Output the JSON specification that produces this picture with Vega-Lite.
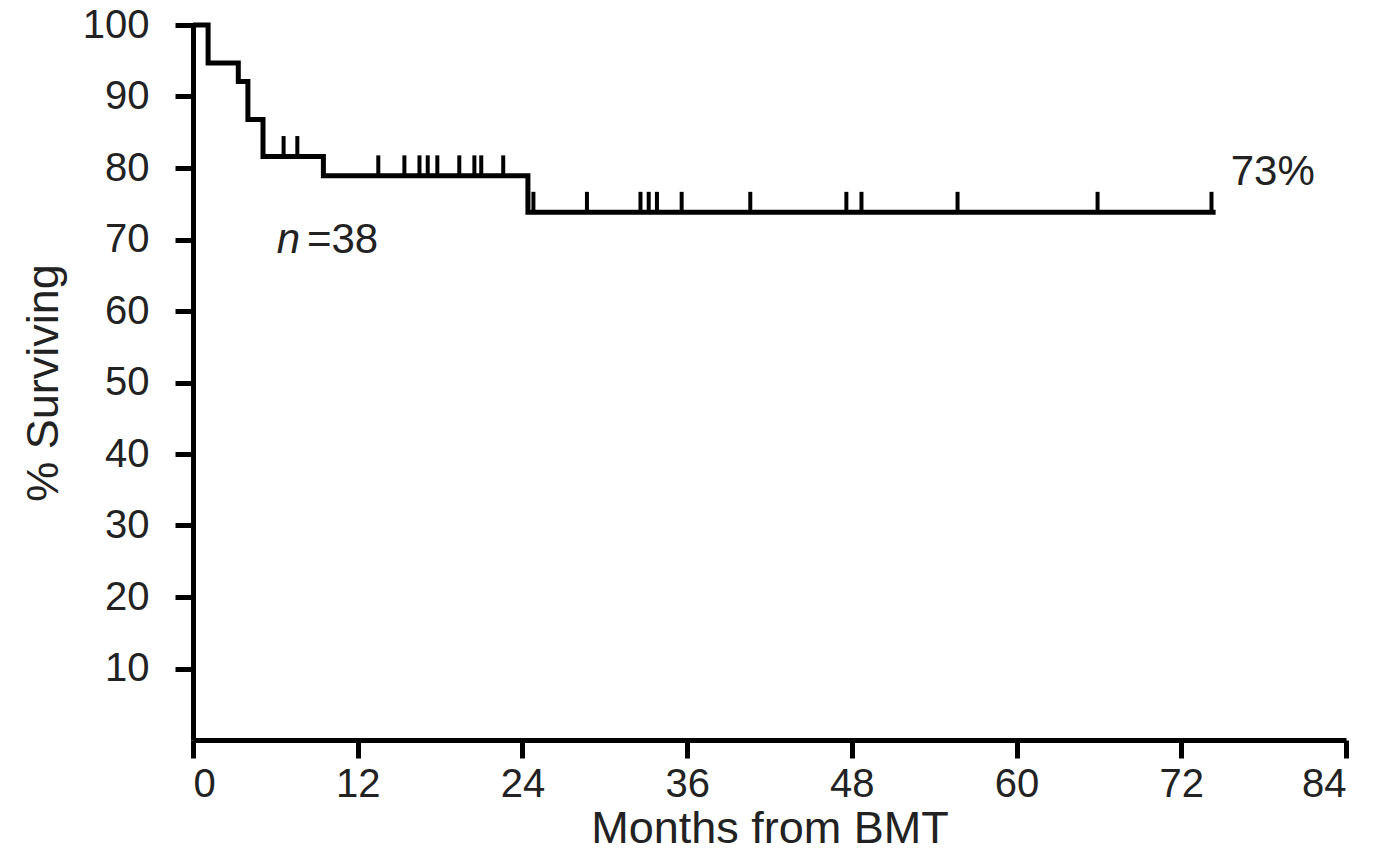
{
  "$schema": "https://vega.github.io/schema/vega-lite/v6.json",
  "width": 1153,
  "height": 715,
  "autosize": "none",
  "padding": {"left": 193, "top": 25, "right": 34, "bottom": 117},
  "background": "white",
  "config": {
    "view": {"stroke": null},
    "font": "Liberation Sans",
    "axis": {
      "grid": false,
      "domainColor": "#000000",
      "domainWidth": 5,
      "tickColor": "#000000",
      "tickWidth": 5,
      "tickSize": 18,
      "labelFont": "Liberation Sans",
      "labelFontSize": 40,
      "labelColor": "#222222",
      "titleFont": "Liberation Sans",
      "titleFontSize": 45,
      "titleFontWeight": "normal",
      "titleColor": "#222222"
    }
  },
  "datasets": {
    "curve": [
      {"month": 0, "surv": 100},
      {"month": 1.1, "surv": 94.7},
      {"month": 3.3, "surv": 92.1},
      {"month": 4.0, "surv": 86.8},
      {"month": 5.1, "surv": 81.6},
      {"month": 9.5, "surv": 78.9},
      {"month": 24.4, "surv": 73.8},
      {"month": 74.5, "surv": 73.8}
    ],
    "censored": [
      {"month": 6.6, "surv": 81.6},
      {"month": 7.6, "surv": 81.6},
      {"month": 13.5, "surv": 78.9},
      {"month": 15.4, "surv": 78.9},
      {"month": 16.5, "surv": 78.9},
      {"month": 17.1, "surv": 78.9},
      {"month": 17.8, "surv": 78.9},
      {"month": 19.4, "surv": 78.9},
      {"month": 20.5, "surv": 78.9},
      {"month": 21.0, "surv": 78.9},
      {"month": 22.6, "surv": 78.9},
      {"month": 24.8, "surv": 73.8},
      {"month": 28.7, "surv": 73.8},
      {"month": 32.6, "surv": 73.8},
      {"month": 33.2, "surv": 73.8},
      {"month": 33.8, "surv": 73.8},
      {"month": 35.6, "surv": 73.8},
      {"month": 40.6, "surv": 73.8},
      {"month": 47.6, "surv": 73.8},
      {"month": 48.7, "surv": 73.8},
      {"month": 55.7, "surv": 73.8},
      {"month": 65.9, "surv": 73.8},
      {"month": 74.2, "surv": 73.8}
    ]
  },
  "layer": [
    {
      "data": {"name": "curve"},
      "mark": {"type": "line", "interpolate": "step-after", "color": "#000000", "strokeWidth": 5, "clip": false},
      "encoding": {
        "x": {
          "field": "month", "type": "quantitative",
          "scale": {"domain": [0, 84], "nice": false, "zero": false},
          "axis": {"values": [0, 12, 24, 36, 48, 60, 72, 84], "title": "Months from BMT", "labelPadding": 6, "titlePadding": 2}
        },
        "y": {
          "field": "surv", "type": "quantitative",
          "scale": {"domain": [0, 100], "nice": false},
          "axis": {"values": [10, 20, 30, 40, 50, 60, 70, 80, 90, 100], "title": "% Surviving", "labelPadding": 26, "titlePadding": 16}
        }
      }
    },
    {
      "data": {"name": "censored"},
      "mark": {"type": "tick", "orient": "vertical", "color": "#000000", "thickness": 4, "size": 21, "yOffset": -10, "opacity": 1},
      "encoding": {
        "x": {"field": "month", "type": "quantitative"},
        "y": {"field": "surv", "type": "quantitative"}
      }
    },
    {
      "data": {"values": [{}]},
      "mark": {"type": "text", "text": "73%", "align": "left", "baseline": "middle", "fontSize": 42, "color": "#222222"},
      "encoding": {"x": {"datum": 75.6}, "y": {"datum": 79.4}}
    },
    {
      "data": {"values": [{}]},
      "mark": {"type": "text", "text": "n", "align": "left", "baseline": "middle", "fontSize": 42, "fontStyle": "italic", "color": "#222222"},
      "encoding": {"x": {"datum": 6.1}, "y": {"datum": 69.9}}
    },
    {
      "data": {"values": [{}]},
      "mark": {"type": "text", "text": "=38", "align": "left", "baseline": "middle", "fontSize": 42, "color": "#222222"},
      "encoding": {"x": {"datum": 8.3}, "y": {"datum": 69.9}}
    }
  ]
}
